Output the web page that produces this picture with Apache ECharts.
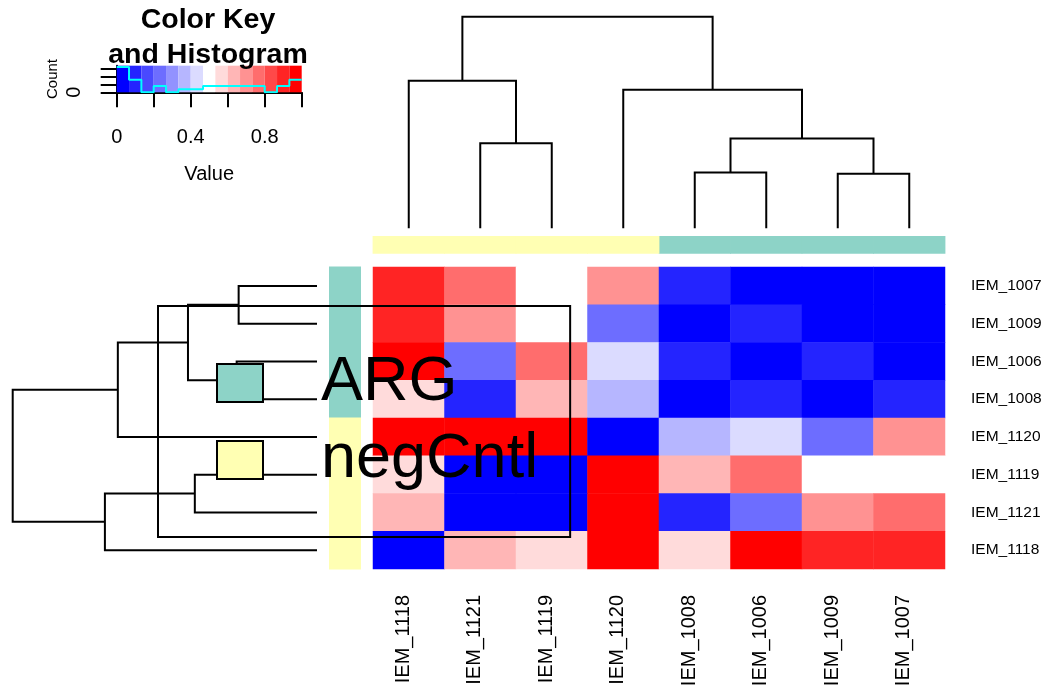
<!DOCTYPE html>
<html>
<head>
<meta charset="utf-8">
<script src="https://cdn.jsdelivr.net/npm/echarts@6/dist/echarts.min.js"></script>
<style>
html,body{margin:0;padding:0;background:#fff;}
#chart{width:1046px;height:691px;}
</style>
</head>
<body>
<div id="chart"></div>
<script>
// ---------------- data ----------------
const rowLabels = ['IEM_1007','IEM_1009','IEM_1006','IEM_1008','IEM_1120','IEM_1119','IEM_1121','IEM_1118'];
const colLabels = ['IEM_1118','IEM_1121','IEM_1119','IEM_1120','IEM_1008','IEM_1006','IEM_1009','IEM_1007'];
const rowGroups = ['ARG','ARG','ARG','ARG','negCntl','negCntl','negCntl','negCntl'];
const colGroups = ['negCntl','negCntl','negCntl','negCntl','ARG','ARG','ARG','ARG'];
const groupNames = ['ARG','negCntl'];
const groupColors = ['#8DD3C7','#FFFFB3'];

// cell values, rows top->bottom, columns left->right
const values = [
  [0.90, 0.77, 0.50, 0.70, 0.10, 0.03, 0.02, 0.00],
  [0.90, 0.70, 0.50, 0.24, 0.04, 0.10, 0.00, 0.02],
  [0.97, 0.24, 0.77, 0.44, 0.09, 0.00, 0.10, 0.03],
  [0.57, 0.09, 0.63, 0.37, 0.00, 0.09, 0.04, 0.10],
  [0.97, 0.98, 0.96, 0.00, 0.37, 0.44, 0.24, 0.70],
  [0.57, 0.05, 0.00, 0.96, 0.63, 0.77, 0.50, 0.50],
  [0.63, 0.00, 0.05, 0.98, 0.09, 0.24, 0.70, 0.77],
  [0.00, 0.63, 0.57, 0.97, 0.57, 0.97, 0.90, 0.90]
];

// hierarchical clustering (shared by rows and columns): [childA, childB, height]
// numbers refer to earlier merges, strings to leaves
const treeMerges = [
  ['IEM_1007', 'IEM_1009', 0.515],
  ['IEM_1006', 'IEM_1008', 0.528],
  ['IEM_1119', 'IEM_1121', 0.803],
  [0, 1, 0.848],
  [3, 'IEM_1120', 1.309],
  [2, 'IEM_1118', 1.394],
  [4, 5, 2.0]
];

// colour key
const palette = ['#0000FF','#2424FF','#4949FF','#6D6DFF','#9292FF','#B6B6FF','#DBDBFF','#FFFFFF',
                 '#FFDBDB','#FFB6B6','#FF9292','#FF6D6D','#FF4949','#FF2424','#FF0000'];
const histCounts = [16, 8, 0, 4, 0, 2, 2, 4, 4, 4, 4, 4, 0, 4, 8];
const keyValueTicks = [0, 0.2, 0.4, 0.6, 0.8, 1.0];
const keyValueLabels = [0, 0.4, 0.8];
const keyCountTicks = [0, 5, 10, 15];
const keyCountLabels = [0];
const keyCountMax = 16.84;

// ---------------- derived ----------------
const nBins = palette.length;
const breaks = [];
for (let k = 0; k <= nBins; k++) breaks.push(k / nBins);

const heatData = [];
values.forEach((row, r) => row.forEach((v, c) => heatData.push([c, r, v])));

const pieces = palette.map((col, k) => k === nBins - 1
  ? {gte: breaks[k], lte: breaks[k + 1], color: col}
  : {gte: breaks[k], lt: breaks[k + 1], color: col});

function dendroSegments(order) {
  const nodes = [];
  const get = ref => typeof ref === 'number' ? nodes[ref] : {pos: order.indexOf(ref) + 0.5, h: 0};
  const segs = [];
  treeMerges.forEach(([a, b, h]) => {
    const A = get(a), B = get(b);
    nodes.push({pos: (A.pos + B.pos) / 2, h: h});
    segs.push([A.pos, A.h, B.pos, B.h, h]);
  });
  return segs;
}
const colSegs = dendroSegments(colLabels);
const rowSegs = dendroSegments(rowLabels);
const rootH = treeMerges[treeMerges.length - 1][2];

const keyBins = palette.map((c, k) => [breaks[k], breaks[k + 1], k]);
const histLine = histCounts.map((c, k) => [breaks[k], c]);
histLine.push([breaks[nBins], histCounts[nBins - 1]]);

const FONT = 'Liberation Sans, Arial, Helvetica, sans-serif';
const LINE = '#000';

function dendroRender(horizontal) {
  return function (params, api) {
    const pa = api.value(0), ha = api.value(1), pb = api.value(2), hb = api.value(3), h = api.value(4);
    const pt = horizontal ? (p, hh) => api.coord([hh, p]) : (p, hh) => api.coord([p, hh]);
    return {
      type: 'polyline',
      shape: {points: [pt(pa, ha), pt(pa, h), pt(pb, h), pt(pb, hb)]},
      style: {stroke: LINE, lineWidth: 2, fill: null}
    };
  };
}

function sideSeries(groupIdx, axisIdx, groups, vertical) {
  const name = groupNames[groupIdx];
  const color = groupColors[groupIdx];
  const data = [];
  groups.forEach((g, i) => { if (g === name) data.push(vertical ? [0, i] : [i, 0]); });
  return {
    type: 'custom', name: name, xAxisIndex: axisIdx, yAxisIndex: axisIdx,
    itemStyle: {color: color},
    data: data,
    renderItem: function (params, api) {
      if (vertical) {
        const i = api.value(1);
        const p0 = api.coord([0, i]), p1 = api.coord([1, i]);
        const hgt = api.size([0, 1])[1];
        return {type: 'rect', shape: {x: p0[0], y: p0[1] - hgt / 2 - 0.4, width: p1[0] - p0[0], height: hgt + 0.8},
                style: {fill: color}};
      } else {
        const i = api.value(0);
        const p0 = api.coord([i, 0]), p1 = api.coord([i, 1]);
        const w = api.size([1, 0])[0];
        return {type: 'rect', shape: {x: p0[0] - w / 2 - 0.4, y: p1[1], width: w + 0.8, height: p0[1] - p1[1]},
                style: {fill: color}};
      }
    }
  };
}

const hidden = {show: false};
function hiddenValueAxis(grid, min, max, inverse) {
  return {type: 'value', gridIndex: grid, min: min, max: max, inverse: !!inverse,
          axisLine: hidden, axisTick: hidden, axisLabel: hidden, splitLine: hidden};
}
function hiddenCatAxis(grid, data, inverse) {
  return {type: 'category', gridIndex: grid, data: data, inverse: !!inverse,
          axisLine: hidden, axisTick: hidden, axisLabel: hidden, splitLine: hidden};
}

const option = {
  animation: false,
  backgroundColor: '#fff',
  textStyle: {fontFamily: FONT},
  title: {
    text: 'Color Key\nand Histogram',
    left: 208, top: 2.5, padding: 0,
    textAlign: 'center',
    textStyle: {fontSize: 28.5, fontWeight: 'bold', lineHeight: 35, color: '#000', fontFamily: FONT}
  },
  legend: {
    data: groupNames.map((n, i) => ({name: n, icon: 'rect',
      itemStyle: {color: groupColors[i], borderColor: '#000', borderWidth: 2}})),
    orient: 'vertical', left: 158, top: 306,
    itemWidth: 46, itemHeight: 38, itemGap: 14,
    padding: [45.5, 32, 45.5, 58],
    borderColor: '#000', borderWidth: 2, backgroundColor: 'transparent',
    textStyle: {fontSize: 63, color: '#000', fontFamily: FONT, padding: [0, 0, 0, 53]},
    selectedMode: false,
    z: 20
  },
  visualMap: {
    type: 'piecewise', show: false, seriesIndex: 0, dimension: 2,
    pieces: pieces
  },
  grid: [
    {left: 373, top: 267, width: 572, height: 302, outerBoundsMode: 'none'},      // 0 heatmap
    {left: 373, top: 236, width: 572, height: 17.7, outerBoundsMode: 'none'},     // 1 column side colours
    {left: 329, top: 267, width: 32, height: 302, outerBoundsMode: 'none'},       // 2 row side colours
    {left: 373, top: 16.7, width: 572, height: 211.6, outerBoundsMode: 'none'},   // 3 column dendrogram
    {left: 12.7, top: 267, width: 304.3, height: 302, outerBoundsMode: 'none'},   // 4 row dendrogram
    {left: 116.7, top: 65.7, width: 185, height: 26.6, outerBoundsMode: 'none'},  // 5 colour key
    {left: 367.5, top: 267, width: 572, height: 302, outerBoundsMode: 'none'}     // 6 column labels
  ],
  xAxis: [
    hiddenCatAxis(0, colLabels),
    hiddenCatAxis(1, colLabels),
    hiddenValueAxis(2, 0, 1),
    hiddenValueAxis(3, 0, colLabels.length),
    hiddenValueAxis(4, 0, rootH, true),
    {type: 'value', gridIndex: 5, min: 0, max: 1,
     axisLine: {show: true, onZero: false, lineStyle: {color: '#000', width: 2}},
     axisTick: {show: true, length: 15, customValues: keyValueTicks, lineStyle: {color: '#000', width: 2}},
     axisLabel: {show: true, customValues: keyValueLabels, fontSize: 20, color: '#000', margin: 35, fontFamily: FONT},
     splitLine: hidden,
     name: 'Value', nameLocation: 'middle', nameGap: 72,
     nameTextStyle: {fontSize: 20, color: '#000', fontFamily: FONT}},
    {type: 'category', gridIndex: 6, data: colLabels, position: 'bottom',
     axisLine: hidden, axisTick: hidden, splitLine: hidden,
     axisLabel: {interval: 0, rotate: 90, fontSize: 20, color: '#000', margin: 26, fontFamily: FONT}}
  ],
  yAxis: [
    {type: 'category', gridIndex: 0, data: rowLabels, inverse: true, position: 'right',
     axisLine: hidden, axisTick: hidden, splitLine: hidden,
     axisLabel: {interval: 0, fontSize: 15.5, color: '#000', margin: 26, fontFamily: FONT}},
    hiddenValueAxis(1, 0, 1),
    hiddenCatAxis(2, rowLabels, true),
    hiddenValueAxis(3, 0, rootH),
    hiddenValueAxis(4, 0, rowLabels.length, true),
    {type: 'value', gridIndex: 5, min: 0, max: keyCountMax,
     axisLine: {show: true, onZero: false, lineStyle: {color: '#000', width: 2}},
     axisTick: {show: true, length: 16, customValues: keyCountTicks, lineStyle: {color: '#000', width: 2}},
     axisLabel: {show: true, customValues: keyCountLabels, rotate: 90, fontSize: 20, color: '#000', margin: 32, fontFamily: FONT},
     splitLine: hidden,
     name: 'Count', nameLocation: 'middle', nameRotate: 90, nameGap: 56,
     nameTextStyle: {fontSize: 15, color: '#000', fontFamily: FONT}},
    hiddenCatAxis(6, rowLabels, true)
  ],
  series: [
    {type: 'heatmap', xAxisIndex: 0, yAxisIndex: 0, data: heatData, emphasis: {disabled: true}},
    sideSeries(0, 1, colGroups, false),
    sideSeries(1, 1, colGroups, false),
    sideSeries(0, 2, rowGroups, true),
    sideSeries(1, 2, rowGroups, true),
    {type: 'custom', xAxisIndex: 3, yAxisIndex: 3, data: colSegs,
     dimensions: ['pa','ha','pb','hb','h'], encode: {x: [0, 2], y: [1, 3, 4]},
     renderItem: dendroRender(false)},
    {type: 'custom', xAxisIndex: 4, yAxisIndex: 4, data: rowSegs,
     dimensions: ['pa','ha','pb','hb','h'], encode: {x: [1, 3, 4], y: [0, 2]},
     renderItem: dendroRender(true)},
    {type: 'custom', xAxisIndex: 5, yAxisIndex: 5, data: keyBins, z: 1,
     encode: {x: [0, 1]},
     renderItem: function (params, api) {
       const p0 = api.coord([api.value(0), 0]);
       const p1 = api.coord([api.value(1), keyCountMax]);
       return {type: 'rect', shape: {x: p0[0], y: p1[1], width: p1[0] - p0[0], height: p0[1] - p1[1]},
               style: {fill: palette[api.value(2)]}};
     }},
    {type: 'line', xAxisIndex: 5, yAxisIndex: 5, data: histLine, step: 'end', z: 5,
     symbol: 'none', lineStyle: {color: '#00FFFF', width: 2}, itemStyle: {color: '#00FFFF'}}
  ]
};

const chart = echarts.init(document.getElementById('chart'), null, {renderer: 'canvas', width: 1046, height: 691});
chart.setOption(option);
</script>
</body>
</html>
